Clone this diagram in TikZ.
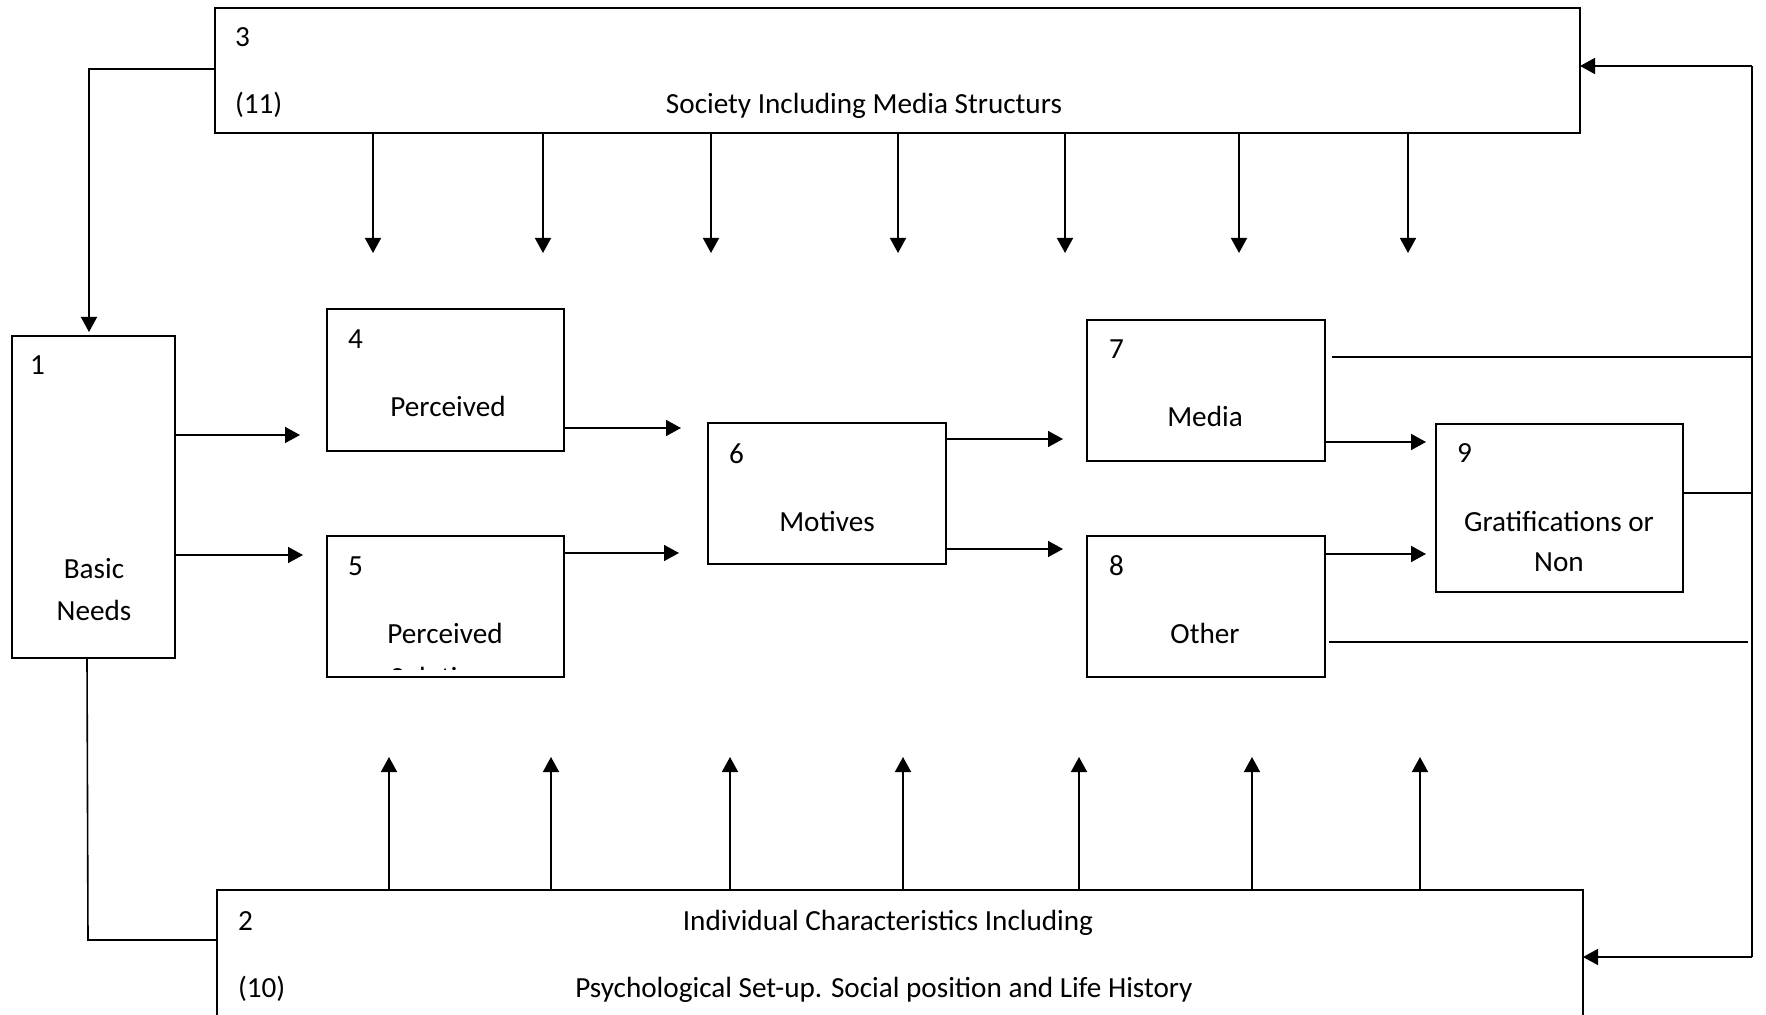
\documentclass[tikz,border=0pt]{standalone}
\usepackage{fontspec}
\setmainfont{Carlito}
\usetikzlibrary{arrows.meta}
\begin{document}
\begin{tikzpicture}[x=0.5pt,y=-0.5pt,
  box/.style={draw, line width=0.9pt, inner sep=0pt, outer sep=0pt},
  lbl/.style={inner sep=0pt, outer sep=0pt, font=\fontsize{14.6pt}{20.5pt}\selectfont},
  num/.style={lbl, anchor=base west},
  txt/.style={lbl, anchor=base},
  conn/.style={line width=0.8pt},
  arr/.style={conn, -{Triangle[length=7.5pt,width=8pt]}},
]
\clip (0,0) rectangle (1766,1015);
\fill[white] (0,0) rectangle (1766,1015);

% boxes
\node[box, minimum width=81.5pt, minimum height=161pt] (b1) at (93.5,497) {};
\node[box, minimum width=682.5pt, minimum height=62.5pt] (b3) at (897.5,70.5) {};
\node[box, minimum width=683pt, minimum height=75pt] (b2) at (900,965) {};
\node[box, minimum width=118.5pt, minimum height=71pt] (b4) at (445.5,380) {};
\node[box, minimum width=118.5pt, minimum height=70.5pt] (b5) at (445.5,606.5) {};
\node[box, minimum width=119pt, minimum height=70.5pt] (b6) at (827,493.5) {};
\node[box, minimum width=119pt, minimum height=70.5pt] (b7) at (1206,390.5) {};
\node[box, minimum width=119pt, minimum height=70.5pt] (b8) at (1206,606.5) {};
\node[box, minimum width=123.5pt, minimum height=84pt] (b9) at (1559.5,508) {};

% texts
\node[num] (n3) at (235,47) {3};
\node[num] (n11) at (235,114) {(11)};
\node[txt] (t3) at (864,114) {Society Including Media Structurs};
\node[num] (n2) at (238,930) {2};
\node[txt] (t2a) at (888,930) {Individual Characteristics Including};
\node[num] (n10) at (238,997) {(10)};
\node[txt] (t2b) at (884,997) {Psychological Set-up. Social position and Life History};
\node[num] (n1) at (30,375) {1};
\node[txt] (t1a) at (94,578) {Basic};
\node[txt] (t1b) at (94,620) {Needs};
\node[num] (n4) at (348,349) {4};
\node[txt] (t4) at (448,417) {Perceived};
\node[num] (n5) at (348,575) {5};
\node[txt] (t5a) at (445,643) {Perceived};
\begin{scope}
  \clip (329,538) rectangle (562,669);
  \node[txt] (t5b) at (445,687) {Solutions};
\end{scope}
\node[num] (n6) at (729,464) {6};
\node[txt] (t6) at (827,531) {Motives};
\node[num] (n7) at (1109,359) {7};
\node[txt] (t7) at (1205,427) {Media};
\node[num] (n8) at (1109,575) {8};
\node[txt] (t8) at (1205,643) {Other};
\node[num] (n9) at (1457,463) {9};
\node[txt] (t9a) at (1559,531) {Gratifications or};
\node[txt] (t9b) at (1559,572) {Non};

% society -> basic needs
\coordinate (c1) at (89,69);
\draw[arr, shorten >=2pt] (b3.west |- c1) -- (c1) -- (c1 |- b1.north);
% basic needs -> individual characteristics
\coordinate (c2) at (88,940);
\draw[conn] (b1.south -| 87,0) -- (c2) -- (b2.west |- c2);

% down arrows from society
\foreach \x in {373,543,711,898,1065,1239,1408}
  \draw[arr] (b3.south -| \x,0) -- ++(0,120);
% up arrows from individual characteristics
\foreach \x in {389,551,730,903,1079,1252,1420}
  \draw[arr] (b2.north -| \x,0) -- ++(0,-133);

% main flow
\draw[arr, shorten >=13.5pt] (b1.east |- 0,435) -- (b4.west |- 0,435);
\draw[arr, shorten >=12pt] (b1.east |- 0,555) -- (b5.west |- 0,555);
\draw[arr, shorten >=13.5pt] (b4.east |- 0,428) -- (b6.west |- 0,428);
\draw[arr, shorten >=14.5pt] (b5.east |- 0,553) -- (b6.west |- 0,553);
\draw[arr, shorten >=12pt] (b6.east |- 0,439) -- (b7.west |- 0,439);
\draw[arr, shorten >=12pt] (b6.east |- 0,549) -- (b8.west |- 0,549);
\draw[arr, shorten >=5pt] (b7.east |- 0,442) -- (b9.west |- 0,442);
\draw[arr, shorten >=5pt] (b8.east |- 0,554) -- (b9.west |- 0,554);

% feedback on the right
\coordinate (r1) at (1752,66);
\coordinate (r2) at (1752,957);
\draw[conn] (r1) -- (r2);
\draw[arr] (r1) -- (b3.east |- r1);
\draw[arr] (r2) -- (b2.east |- r2);
\draw[conn, shorten <=3.5pt] (b7.east |- 0,357) -- (r1 |- 0,357);
\draw[conn] (b9.east |- 0,493) -- (r1 |- 0,493);
\draw[conn, shorten <=2pt, shorten >=2pt] (b8.east |- 0,642) -- (r1 |- 0,642);
\end{tikzpicture}
\end{document}
